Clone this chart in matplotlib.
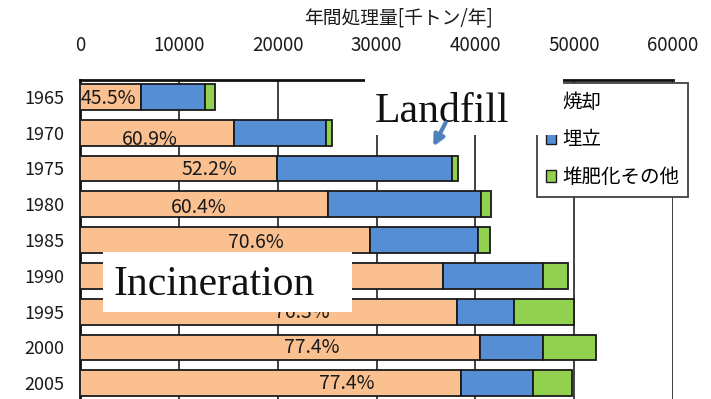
import matplotlib.pyplot as plt
from matplotlib.patches import Rectangle, FancyArrowPatch

plt.rcParams['font.family'] = ['Noto Sans CJK JP', 'DejaVu Sans']

# Data (thousand tonnes per year)
years = ['1965', '1970', '1975', '1980', '1985', '1990', '1995', '2000', '2005']
incineration = [6215, 15550, 19950, 25100, 29340, 36700, 38120, 40450, 38530]
landfill = [6435, 9350, 17650, 15450, 10900, 10120, 5800, 6370, 7280]
other = [1010, 630, 620, 1010, 1250, 2600, 6070, 5370, 4010]
share_labels = ['45.5%', '60.9%', '52.2%', '60.4%', '70.6%', '74.3%', '76.3%', '77.4%', '77.4%']
series_names = ['焼却', '埋立', '堆肥化その他']
x_ticks = [0, 10000, 20000, 30000, 40000, 50000, 60000]

# label placement (layout only)
label_x = [2830, 7080, 13050, 12040, 17810, 19000, 22460, 23480, 27020]
label_dy = [0.05, 0.2, 0.03, 0.08, 0.06, 0.0, 0.03, 0.0, 0.0]

W, H = 711, 399
fig = plt.figure(figsize=(W / 100, H / 100), dpi=100)

def fx(px):
    return px / W

def fy(py):
    return 1 - py / H

# axes: left 80px, right 673px, top 80px, bottom runs past the figure edge
row = 35.8
y_top = -0.47
y_bot = 8.6
bottom_px = 80 + (y_bot - y_top) * row
ax = fig.add_axes([fx(80), fy(bottom_px), fx(673) - fx(80), fy(80) - fy(bottom_px)])

pos = list(range(len(years)))
left2 = [a + b for a, b in zip(incineration, landfill)]
kw = dict(height=0.72, edgecolor='#1a1a1a', linewidth=1.3, zorder=3)
ax.barh(pos, incineration, color='#FAC090', label=series_names[0], **kw)
ax.barh(pos, landfill, left=incineration, color='#558ED5', label=series_names[1], **kw)
ax.barh(pos, other, left=left2, color='#92D050', label=series_names[2], **kw)

for i, txt in enumerate(share_labels):
    ax.text(label_x[i], i + label_dy[i], txt, ha='center', va='center',
            fontsize=14, color='#1a1a1a', zorder=4)

ax.set_xlim(0, 60000)
ax.set_ylim(y_bot, y_top)
ax.set_xticks(x_ticks)
ax.set_xticklabels([str(v) for v in x_ticks])
ax.xaxis.tick_top()
ax.tick_params(axis='x', length=0, pad=17, labelsize=13.5, colors='#1a1a1a')
ax.set_yticks(pos)
ax.set_yticklabels(years)
ax.tick_params(axis='y', length=0, pad=11, labelsize=13, colors='#1a1a1a')
ax.grid(axis='x', color='#333333', linewidth=1.3, zorder=0)
ax.set_axisbelow(True)
for side in ['right', 'bottom']:
    ax.spines[side].set_visible(False)
for side in ['top', 'left']:
    ax.spines[side].set_linewidth(2)
    ax.spines[side].set_color('#111111')

fig.text(fx(399), fy(18), '年間処理量[千トン/年]', ha='center', va='center',
         fontsize=13.5, color='#1a1a1a')

leg = ax.legend(loc='upper left', bbox_to_anchor=(fx(537), fy(83)),
                bbox_transform=fig.transFigure, borderaxespad=0,
                fontsize=14, handlelength=0.55, handleheight=0.55,
                handletextpad=0.3, labelspacing=0.85, borderpad=0.45,
                fancybox=False, framealpha=1)
leg.get_frame().set_edgecolor('#404040')
leg.get_frame().set_linewidth(1.3)
for h in leg.legend_handles:
    h.set_linewidth(1.0)

# white annotation boxes
fig.add_artist(Rectangle((fx(365), fy(135)), fx(563) - fx(365), fy(70) - fy(135),
                         transform=fig.transFigure, facecolor='white',
                         edgecolor='none', zorder=5))
fig.add_artist(Rectangle((fx(103), fy(312)), fx(352) - fx(103), fy(252) - fy(312),
                         transform=fig.transFigure, facecolor='white',
                         edgecolor='none', zorder=5))
fig.text(fx(375), fy(122), 'Landfill', ha='left', va='baseline',
         fontsize=30, family='Liberation Serif', color='#111111', zorder=6)
fig.text(fx(113), fy(295), 'Incineration', ha='left', va='baseline',
         fontsize=30, family='Liberation Serif', color='#111111', zorder=6)
fig.add_artist(FancyArrowPatch((fx(447), fy(120)), (fx(432), fy(149)),
                               transform=fig.transFigure, arrowstyle='-|>',
                               mutation_scale=16, color='#4F81BD', linewidth=3,
                               zorder=7))

fig.savefig('out.png', dpi=100)
